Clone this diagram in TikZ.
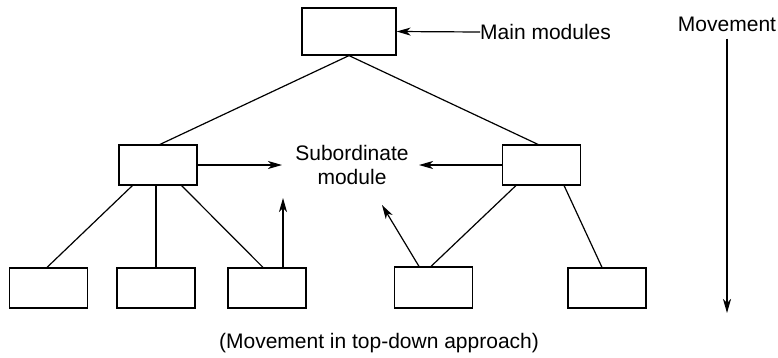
\documentclass[tikz,border=0pt]{standalone}
\usepackage{fontspec}
\setmainfont{Liberation Sans}
\usepackage{tikz}
\usetikzlibrary{positioning, arrows.meta, calc}
\tikzset{
	modbox/.style={draw, line width=1.2pt, minimum width=78pt, minimum height=40pt, inner sep=0pt}
}
\tikzset{
	lbltext/.style={font=\fontsize{21}{24}\selectfont, inner sep=0pt}
}
\tikzset{
	movearrow/.style={line width=1.2pt, -{Stealth[length=14pt, width=8pt, inset=4pt]}}
}

\begin{document}
\begin{tikzpicture}[x=1pt, y=-1pt]
      \useasboundingbox (0,0) rectangle (778,357);
      \node[modbox, minimum width=94pt, minimum height=47pt] (main) at (349,31.5) {};
      \node[modbox] (subL) at (158,165) {};
      \node[modbox] (subR) at (541.5,165) {};
      \node[modbox] (b1) at (48.5,288) {};
      \node[modbox] (b2) at (156,288) {};
      \node[modbox] (b3) at (267,288) {};
      \node[modbox, minimum height=41pt] (b4) at (433.5,287.5) {};
      \node[modbox] (b5) at (607,288) {};
      % labels
      \node[lbltext, anchor=west] (mainlbl) at (480,32) {Main modules};
      \node[lbltext, align=center] (sublbl) at (352,165) {Subordinate\\module};
      \node[lbltext] (movlbl) at (727,24) {Movement};
      \node[lbltext] (caption) at (379,343) {(Movement in top-down approach)};
      \coordinate (leftTip) at (282,165);
      \coordinate (rightTip) at (419,165);
      \coordinate (upTip) at (283,198);
      \coordinate (slantTip) at (382,205);
      \coordinate (moveEnd) at (727,313);
      % tree lines
      \draw[line width=1.2pt] (main.south) -- ([xshift=2pt]subL.north);
      \draw[line width=1.2pt] (main.south) -- ([xshift=-3.5pt]subR.north);
      \draw[line width=1.2pt] ([xshift=14pt]subL.south west) -- ([xshift=-1.5pt]b1.north);
      \draw[line width=1.2pt] ([xshift=-2pt]subL.south) -- (b2.north);
      \draw[line width=1.2pt] ([xshift=-16pt]subL.south east) -- ([xshift=-4pt]b3.north);
      \draw[line width=1.2pt] ([xshift=14pt]subR.south west) -- ([xshift=-2.5pt]b4.north);
      \draw[line width=1.2pt] ([xshift=-17pt]subR.south east) -- ([xshift=-5pt]b5.north);
      % arrows
      \draw[movearrow] (mainlbl.west) -- (main.east);
      \draw[movearrow] (subL.east) -- (leftTip);
      \draw[movearrow] (subR.west) -- (rightTip);
      \draw[movearrow] ([xshift=16pt]b3.north) -- (upTip);
      \draw[movearrow] ([xshift=-14.5pt]b4.north) -- (slantTip);
      \draw[movearrow] ([yshift=-7pt]movlbl.south) -- (moveEnd);
\end{tikzpicture}
\end{document}
